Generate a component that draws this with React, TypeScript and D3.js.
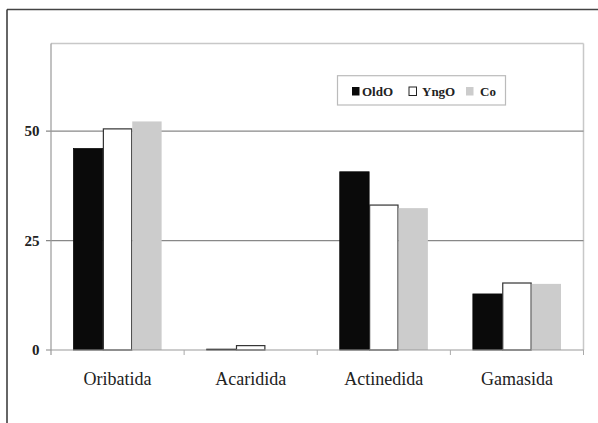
import React from "react";
import * as d3 from "d3";

const categories = ["Oribatida", "Acaridida", "Actinedida", "Gamasida"];
const seriesNames = ["OldO", "YngO", "Co"];
const oldO = [46.0, 0.2, 40.7, 12.8];
const yngO = [50.5, 1.0, 33.1, 15.3];
const co = [52.2, 0, 32.4, 15.1];
const yTicks = [0, 25, 50];

const W = 598;
const H = 423;
const left = 51;
const right = 583.5;
const top = 43.5;
const bottom = 350;

const fills = ["#0a0a0a", "#ffffff", "#cccccc"];
const strokes = ["#0a0a0a", "#333333", "none"];
const serif = '"Liberation Serif"';

export default function App() {
  const series = [oldO, yngO, co];
  const x = d3.scaleBand<string>().domain(categories).range([left, right]).paddingInner(0).paddingOuter(0);
  const y = d3.scaleLinear().domain([0, 70]).range([bottom, top]);
  const groupW = x.bandwidth() * 0.662;
  const xs = d3.scaleBand<string>().domain(seriesNames).range([0, groupW]).padding(0);

  const legendItems = [
    { name: "OldO", sx: 352, tx: 362 },
    { name: "YngO", sx: 409, tx: 422 },
    { name: "Co", sx: 466, tx: 480 },
  ];

  return (
    <svg width={W} height={H} style={{ position: "absolute", left: 0, top: 0, background: "#fff" }}>
      <rect x={0} y={0} width={W} height={H} fill="#fff" />
      {/* outer frame */}
      <line x1={7} y1={9.5} x2={W} y2={9.5} stroke="#444" strokeWidth={1.5} />
      <line x1={7} y1={9.5} x2={7} y2={H} stroke="#333" strokeWidth={1.5} />

      {/* plot border */}
      <line x1={left} y1={top} x2={right} y2={top} stroke="#c8c8c8" strokeWidth={1.5} />
      <line x1={right} y1={top} x2={right} y2={bottom} stroke="#c8c8c8" strokeWidth={1.5} />

      {/* gridlines */}
      {yTicks.filter((t) => t > 0).map((t) => (
        <line key={t} x1={left - 5} x2={right} y1={y(t)} y2={y(t)} stroke="#888" strokeWidth={1.2} />
      ))}
      {/* y axis */}
      <line x1={left} y1={top} x2={left} y2={bottom + 5} stroke="#999" strokeWidth={1.2} />
      <line x1={left - 5} x2={left} y1={y(0)} y2={y(0)} stroke="#999" strokeWidth={1.2} />
      {yTicks.map((t) => (
        <text key={t} x={39.5} y={y(t) + 5} textAnchor="end" style={{ fontFamily: serif }} fontSize={15} fontWeight="bold" fill="#222">
          {t}
        </text>
      ))}

      {/* bars */}
      {categories.map((c, i) => {
        const gx = (x(c) as number) + (x.bandwidth() - groupW) / 2;
        return (
          <g key={c}>
            {series.map((s, j) => {
              const bx = gx + (xs(seriesNames[j]) as number);
              const v = s[i];
              const h = bottom - y(v);
              if (v <= 0) return null;
              return (
                <rect
                  key={j}
                  x={bx + (j === 1 ? 0.5 : 0)}
                  y={y(v)}
                  width={xs.bandwidth() - (j === 1 ? 1 : 0)}
                  height={h}
                  fill={fills[j]}
                  stroke={strokes[j]}
                  strokeWidth={j === 1 ? 1.2 : 0.8}
                />
              );
            })}
          </g>
        );
      })}

      {/* x axis */}
      <line x1={left} x2={right} y1={bottom} y2={bottom} stroke="#999" strokeWidth={1.2} />
      {categories.map((c) => (
        <line key={"t" + c} x1={(x(c) as number) + x.bandwidth()} x2={(x(c) as number) + x.bandwidth()} y1={bottom} y2={bottom + 5} stroke="#aaa" strokeWidth={1} />
      ))}
      {categories.map((c) => (
        <text key={"l" + c} x={(x(c) as number) + x.bandwidth() / 2} y={385} textAnchor="middle" style={{ fontFamily: serif }} fontSize={18} fill="#222">
          {c}
        </text>
      ))}

      {/* legend */}
      <rect x={337.5} y={75.7} width={168} height={29.3} fill="#fff" stroke="#bbb" strokeWidth={1.2} />
      {legendItems.map((it, j) => (
        <g key={it.name}>
          <rect x={it.sx} y={87} width={7.5} height={8.5} fill={fills[j]} stroke={j === 1 ? "#222" : "none"} strokeWidth={1} />
          <text x={it.tx} y={96} style={{ fontFamily: serif }} fontSize={13} fontWeight="bold" fill="#222">
            {it.name}
          </text>
        </g>
      ))}
    </svg>
  );
}
